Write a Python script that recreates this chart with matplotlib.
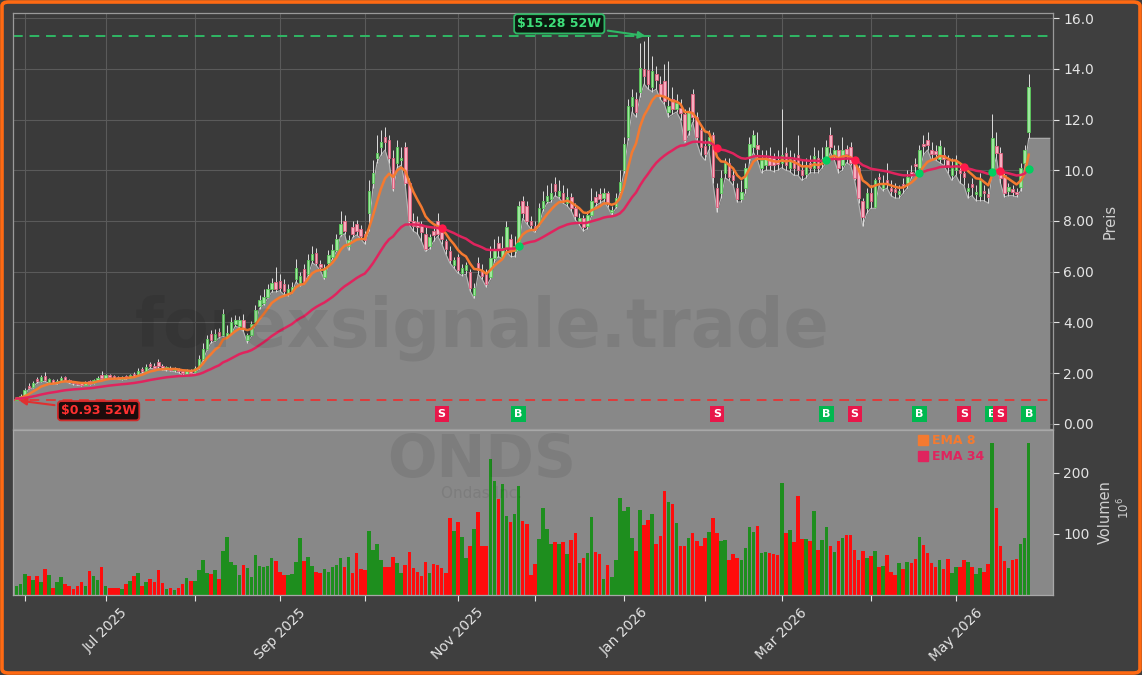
import numpy as np
import pandas as pd
import matplotlib
matplotlib.use("Agg")
import matplotlib.pyplot as plt
from matplotlib.patches import FancyBboxPatch
from matplotlib.lines import Line2D
from matplotlib.ticker import FuncFormatter

# ---------------- data ----------------
ticker = "ONDS"
company = "Ondas Inc."
watermark = "forexsignale.trade"
start_date = "2025-05-29"
end_date = "2026-05-28"
holidays = ["2025-06-19", "2025-07-04", "2025-09-01", "2025-11-27", "2025-12-25",
            "2026-01-01", "2026-01-19", "2026-02-16", "2026-04-03", "2026-05-25"]

opens = [
    0.93, 1.02, 1.15, 1.50, 1.45, 1.78, 1.70, 1.90, 1.66, 1.72,
    1.60, 1.70, 1.84, 1.74, 1.66, 1.62, 1.60, 1.54, 1.68, 1.60,
    1.72, 1.92, 1.82, 1.92, 1.88, 1.84, 1.78, 1.88, 1.82, 1.98,
    1.92, 2.15, 2.10, 2.38, 2.30, 2.45, 2.30, 2.16, 2.22, 2.12,
    2.16, 2.10, 1.98, 2.10, 2.04, 2.22, 2.55, 2.95, 3.55, 3.30,
    3.62, 3.50, 3.45, 3.60, 3.95, 3.85, 4.10, 3.30, 3.50, 4.00,
    4.65, 4.75, 5.00, 5.30, 5.60, 5.65, 5.50, 5.15, 5.25, 5.70,
    5.55, 6.10, 5.90, 6.45, 6.75, 6.30, 5.80, 6.35, 6.60, 6.85,
    7.50, 8.00, 7.00, 7.75, 7.90, 7.70, 7.50, 8.30, 9.50, 10.50,
    10.90, 11.30, 11.20, 10.50, 10.30, 10.40, 10.90, 9.50, 8.00, 7.95,
    7.80, 7.50, 7.00, 7.60, 8.00, 7.55, 7.20, 6.80, 6.25, 6.60,
    5.95, 6.05, 6.00, 5.10, 6.35, 6.05, 5.90, 5.80, 6.55, 7.15,
    6.60, 6.95, 7.30, 6.80, 7.00, 8.80, 8.60, 8.00, 7.80, 7.90,
    8.50, 8.80, 8.85, 9.45, 9.00, 9.10, 8.70, 8.95, 8.50, 7.95,
    8.10, 7.80, 8.25, 8.95, 9.05, 8.90, 9.10, 8.35, 8.60, 9.20,
    10.00, 11.30, 12.55, 12.80, 13.10, 14.00, 13.95, 13.30, 13.80, 13.40,
    13.50, 12.30, 12.80, 12.40, 12.45, 12.20, 11.60, 13.00, 12.10, 11.60,
    10.95, 11.00, 11.40, 9.30, 9.10, 9.90, 10.30, 9.80, 9.30, 8.85,
    9.30, 10.50, 10.90, 11.00, 10.10, 10.20, 10.55, 10.50, 10.40, 10.30,
    10.70, 10.10, 10.45, 10.60, 10.00, 9.85, 10.30, 10.10, 10.50, 10.30,
    10.50, 11.40, 10.60, 10.80, 10.20, 10.85, 10.90, 10.30, 10.10, 8.80,
    8.50, 9.10, 8.55, 9.75, 9.30, 9.60, 9.30, 9.25, 9.05, 9.45,
    9.50, 9.95, 10.25, 10.10, 11.05, 11.20, 10.80, 10.75, 10.45, 10.60,
    10.40, 9.80, 10.00, 10.00, 9.90, 9.20, 9.45, 9.05, 9.00, 9.20,
    9.05, 10.00, 10.95, 10.70, 9.80, 9.20, 9.25, 9.15, 9.35, 10.30,
    11.50]

closes = [
    1.00, 1.12, 1.35, 1.42, 1.62, 1.68, 1.85, 1.72, 1.76, 1.62,
    1.70, 1.82, 1.74, 1.65, 1.60, 1.56, 1.54, 1.62, 1.58, 1.72,
    1.82, 1.80, 1.92, 1.86, 1.82, 1.80, 1.86, 1.80, 1.92, 1.90,
    2.08, 2.08, 2.25, 2.28, 2.22, 2.30, 2.18, 2.24, 2.14, 2.18,
    2.08, 2.00, 2.08, 2.02, 2.20, 2.55, 2.95, 3.35, 3.30, 3.55,
    3.45, 4.35, 3.60, 4.00, 4.10, 4.10, 3.75, 3.50, 3.95, 4.50,
    4.90, 5.00, 5.30, 5.55, 5.30, 5.35, 5.25, 5.30, 5.40, 6.15,
    5.85, 5.60, 6.45, 6.70, 6.35, 6.20, 6.15, 6.65, 6.85, 7.30,
    7.90, 7.60, 7.25, 7.50, 7.60, 7.40, 7.25, 9.20, 9.90, 10.70,
    11.10, 11.10, 10.50, 9.30, 10.90, 10.50, 9.50, 8.00, 7.80, 7.75,
    7.55, 6.90, 7.35, 7.45, 7.50, 7.30, 6.90, 6.45, 6.45, 6.05,
    6.15, 6.25, 5.35, 5.35, 6.05, 5.85, 5.50, 6.55, 6.85, 6.85,
    6.95, 7.75, 6.85, 7.00, 8.60, 8.30, 8.00, 7.85, 7.65, 8.50,
    8.80, 9.00, 9.10, 9.20, 9.20, 8.80, 8.95, 8.50, 8.20, 8.10,
    7.75, 8.25, 8.80, 8.75, 8.85, 9.10, 8.70, 8.45, 8.90, 9.55,
    11.05, 12.55, 12.90, 12.30, 14.05, 13.70, 13.40, 13.90, 13.55, 12.95,
    12.75, 12.55, 12.40, 12.65, 12.25, 11.20, 12.30, 12.10, 11.30, 10.90,
    10.65, 11.30, 9.75, 8.55, 9.70, 10.30, 9.75, 9.60, 8.85, 9.15,
    10.10, 11.05, 11.40, 10.85, 10.40, 10.50, 10.20, 10.20, 10.25, 10.60,
    10.20, 10.50, 10.10, 10.00, 9.80, 10.20, 10.10, 10.55, 10.10, 10.45,
    10.90, 10.90, 10.80, 10.10, 10.80, 10.65, 10.30, 9.70, 8.90, 8.15,
    9.10, 8.80, 9.60, 9.65, 9.50, 9.45, 9.20, 9.15, 9.20, 9.35,
    9.75, 9.85, 10.15, 10.80, 10.95, 11.00, 10.65, 10.65, 10.95, 10.45,
    10.20, 10.10, 10.40, 9.90, 9.75, 9.30, 9.35, 9.15, 9.60, 9.10,
    8.95, 11.26, 10.70, 9.70, 9.10, 9.35, 9.15, 9.05, 10.10, 10.80,
    13.27]

highs = [
    1.05, 1.18, 1.40, 1.60, 1.70, 1.85, 1.92, 2.05, 1.82, 1.78,
    1.76, 1.88, 1.90, 1.78, 1.70, 1.66, 1.64, 1.68, 1.72, 1.78,
    1.88, 2.10, 1.98, 1.96, 1.92, 1.88, 1.90, 1.92, 1.98, 2.05,
    2.20, 2.25, 2.35, 2.45, 2.40, 2.55, 2.35, 2.30, 2.28, 2.24,
    2.22, 2.14, 2.16, 2.15, 2.30, 2.70, 3.20, 3.50, 3.70, 3.75,
    3.80, 4.55, 3.90, 4.20, 4.30, 4.25, 4.35, 3.60, 4.05, 4.70,
    5.10, 5.30, 5.50, 5.75, 6.20, 5.90, 5.70, 5.50, 5.60, 6.50,
    6.00, 6.30, 6.70, 7.00, 6.95, 6.45, 6.30, 6.85, 7.10, 7.50,
    8.40, 8.25, 7.45, 8.00, 8.05, 7.85, 7.60, 9.60, 10.40, 11.40,
    11.60, 11.70, 11.40, 10.80, 11.20, 10.90, 11.10, 9.70, 8.30, 8.20,
    8.00, 7.80, 7.50, 7.80, 8.30, 7.70, 7.30, 7.00, 6.60, 6.70,
    6.30, 6.40, 6.10, 5.55, 6.60, 6.30, 6.10, 7.00, 7.30, 7.40,
    7.40, 8.00, 7.50, 7.40, 8.80, 9.00, 8.80, 8.20, 8.00, 8.70,
    9.20, 9.40, 9.50, 9.75, 9.60, 9.40, 9.30, 9.10, 8.70, 8.30,
    8.25, 8.40, 9.30, 9.20, 9.30, 9.30, 9.20, 8.60, 9.10, 10.00,
    11.30, 12.80, 13.20, 13.10, 15.00, 15.10, 15.28, 14.50, 14.10, 13.70,
    14.20, 14.30, 13.30, 13.00, 12.80, 12.40, 12.50, 13.20, 12.30, 11.80,
    11.20, 11.60, 11.50, 9.50, 10.00, 10.50, 10.50, 10.10, 9.50, 9.60,
    10.30, 11.30, 11.60, 11.50, 10.80, 10.80, 10.90, 10.70, 10.80, 12.40,
    10.90, 10.80, 10.70, 11.40, 10.40, 10.50, 10.60, 10.90, 10.80, 10.90,
    11.20, 11.70, 11.00, 11.00, 11.30, 11.00, 11.10, 10.50, 10.20, 8.90,
    9.30, 9.40, 9.70, 9.90, 9.80, 10.30, 9.60, 9.50, 9.40, 9.70,
    10.00, 10.20, 10.50, 11.00, 11.40, 11.50, 11.10, 11.00, 11.20, 10.90,
    10.60, 10.50, 10.60, 10.30, 10.20, 9.50, 9.70, 9.40, 9.90, 9.40,
    9.30, 12.20, 11.50, 10.90, 9.90, 9.50, 9.40, 9.30, 10.30, 11.00,
    13.80]

lows = [
    0.93, 1.00, 1.12, 1.38, 1.42, 1.62, 1.66, 1.68, 1.60, 1.58,
    1.56, 1.66, 1.70, 1.60, 1.55, 1.52, 1.50, 1.52, 1.54, 1.58,
    1.68, 1.76, 1.78, 1.82, 1.78, 1.76, 1.74, 1.76, 1.80, 1.86,
    1.90, 2.02, 2.06, 2.20, 2.16, 2.22, 2.12, 2.10, 2.08, 2.06,
    2.02, 1.92, 1.95, 1.98, 2.00, 2.18, 2.50, 2.90, 3.20, 3.25,
    3.40, 3.45, 3.40, 3.55, 3.85, 3.80, 3.65, 3.20, 3.45, 3.95,
    4.55, 4.70, 4.95, 5.20, 5.20, 5.25, 5.10, 5.05, 5.15, 5.60,
    5.45, 5.50, 5.85, 6.35, 6.25, 6.05, 5.70, 6.25, 6.50, 6.80,
    7.40, 7.50, 6.85, 7.35, 7.45, 7.30, 7.10, 7.60, 9.30, 10.30,
    10.60, 10.80, 10.30, 9.20, 10.10, 10.20, 9.40, 7.85, 7.60, 7.50,
    7.20, 6.80, 6.90, 7.20, 7.40, 7.10, 6.70, 6.35, 6.15, 5.95,
    5.85, 5.90, 5.25, 4.95, 5.90, 5.70, 5.40, 5.70, 6.40, 6.60,
    6.50, 6.80, 6.60, 6.60, 6.95, 8.10, 7.90, 7.70, 7.55, 7.80,
    8.40, 8.70, 8.75, 9.00, 8.90, 8.70, 8.60, 8.40, 8.05, 7.85,
    7.60, 7.70, 8.20, 8.60, 8.70, 8.80, 8.55, 8.25, 8.50, 9.10,
    9.90, 11.20, 12.30, 12.10, 12.90, 13.40, 13.20, 13.10, 13.20, 12.80,
    12.60, 12.10, 12.20, 12.30, 12.00, 11.10, 11.40, 11.90, 11.10, 10.60,
    10.40, 10.80, 9.50, 8.35, 8.90, 9.70, 9.60, 9.40, 8.75, 8.75,
    9.10, 10.30, 10.70, 10.40, 9.90, 10.00, 10.00, 9.95, 10.00, 10.10,
    10.00, 9.95, 9.80, 9.80, 9.60, 9.70, 9.90, 9.90, 9.90, 10.10,
    10.30, 10.70, 10.40, 9.90, 10.00, 10.30, 10.20, 9.60, 8.70, 7.80,
    8.30, 8.50, 8.50, 9.40, 9.20, 9.30, 9.00, 8.90, 8.90, 9.10,
    9.30, 9.70, 9.90, 9.90, 10.60, 10.80, 10.40, 10.40, 10.30, 10.20,
    9.90, 9.60, 9.80, 9.50, 9.40, 8.90, 9.00, 8.80, 8.80, 8.80,
    8.70, 9.90, 10.50, 9.50, 8.95, 9.00, 9.00, 8.95, 9.20, 10.10,
    11.26]

volumes_m = [
    14, 18, 35, 31, 25, 31, 22, 43, 33, 11,
    21, 29, 18, 14, 10, 15, 21, 15, 39, 31,
    25, 46, 15, 11, 11, 11, 10, 18, 23, 31,
    36, 15, 21, 26, 21, 41, 20, 10, 11, 8,
    11, 18, 28, 23, 23, 41, 57, 36, 34, 41,
    26, 72, 95, 54, 49, 33, 49, 44, 29, 66,
    48, 46, 48, 61, 56, 38, 33, 33, 34, 54,
    93, 56, 62, 48, 38, 36, 43, 38, 46, 49,
    61, 46, 62, 36, 69, 43, 41, 105, 74, 84,
    57, 46, 46, 62, 52, 36, 49, 70, 44, 38,
    31, 54, 36, 51, 49, 44, 36, 126, 105, 120,
    95, 61, 80, 108, 136, 80, 80, 223, 187, 157,
    182, 130, 120, 133, 179, 121, 116, 33, 51, 92,
    143, 108, 84, 87, 84, 87, 67, 90, 101, 52,
    61, 68, 128, 70, 67, 26, 49, 30, 57, 159,
    138, 144, 93, 72, 139, 115, 123, 133, 84, 97,
    170, 152, 149, 118, 80, 80, 93, 102, 89, 80,
    93, 103, 126, 102, 89, 90, 57, 67, 61, 57,
    77, 111, 103, 113, 69, 70, 69, 67, 66, 184,
    102, 107, 87, 162, 92, 92, 89, 138, 74, 90,
    111, 80, 70, 89, 93, 98, 98, 74, 57, 72,
    61, 64, 72, 46, 48, 66, 38, 33, 52, 43,
    54, 52, 59, 95, 82, 69, 52, 46, 57, 43,
    59, 36, 46, 46, 57, 54, 46, 34, 44, 38,
    51, 248, 143, 80, 56, 44, 57, 59, 84, 93,
    248]

signal_idx = [105, 124, 173, 200, 207, 223, 234, 241, 243, 250]
signal_type = ["S", "B", "S", "B", "S", "B", "S", "B", "S", "B"]
ema_spans = [8, 34]
ema_labels = ["EMA 8", "EMA 34"]

# ---------------- styling ----------------
BG = "#3f3f3f"
AX_BG = "#3a3a3a"
FILL = "#888888"
GRID = "#5a5a5a"
TXT = "#e4e4e4"
ORANGE = "#f47a30"
CRIMSON = "#e0245e"
UP_FACE, UP_EDGE = "#9ee89e", "#58c858"
DN_FACE, DN_EDGE = "#f7aec0", "#e0607e"
VOL_UP, VOL_DN = "#1e8e1e", "#ff0c0c"
GREEN_SIG, RED_SIG = "#00b84f", "#e8174a"

W, H = 1142, 675
o = np.array(opens); c = np.array(closes); h = np.array(highs); l = np.array(lows)
v = np.array(volumes_m, dtype=float)
n = len(c)
x = np.arange(n)

dates = pd.bdate_range(start_date, end_date)
dates = dates[~dates.isin(pd.to_datetime(holidays))][:n]

fig = plt.figure(figsize=(W / 100, H / 100), dpi=100)
fig.patch.set_facecolor(BG)

ax = fig.add_axes([13 / W, 1 - 429 / H, 1040 / W, 416 / H])
axv = fig.add_axes([13 / W, 1 - 595 / H, 1040 / W, 165 / H], sharex=ax)

xmin, xmax = -0.9, 256.0
ax.set_xlim(xmin, xmax)
ax.set_ylim(-0.2, 16.2)
ax.set_facecolor(AX_BG)
ax.set_axisbelow(True)
ax.grid(True, color=GRID, lw=0.8)

# area of lows
xf = np.r_[xmin, x, xmax - 0.8]
yf = np.r_[l[0], l, l[-1]]
ax.fill_between(xf, yf, -1, color=FILL, lw=0, zorder=1)
ax.plot(xf, yf, color="#b8b8b8", lw=0.8, zorder=1.2)

# candles
up = c >= o
ax.vlines(x, l, h, color="#dedede", lw=0.7, zorder=2)
body = np.maximum(np.abs(c - o), 0.03)
ax.bar(x, body, bottom=np.minimum(o, c), width=0.62,
       color=np.where(up, UP_FACE, DN_FACE),
       edgecolor=np.where(up, UP_EDGE, DN_EDGE), lw=0.6, zorder=3)

# EMAs
s = pd.Series(c)
ema_fast = s.ewm(span=ema_spans[0], adjust=False).mean().values
ema_slow = s.ewm(span=ema_spans[1], adjust=False).mean().values
ax.plot(x, ema_fast, color=ORANGE, lw=1.8, zorder=4)
ax.plot(x, ema_slow, color=CRIMSON, lw=1.8, zorder=4)

# 52W high/low lines
hi_i = int(np.argmax(h)); hi_v = h[hi_i]
lo_i = int(np.argmin(l)); lo_v = l[lo_i]
ax.axhline(hi_v, color="#2fb865", ls=(0, (5, 3.5)), lw=1.4, zorder=2.5)
ax.axhline(lo_v, color="#e03a3a", ls=(0, (5, 3.5)), lw=1.4, zorder=2.5)

ax.annotate(f"${hi_v:.2f} 52W", xy=(hi_i, hi_v), xytext=(-64, 9), textcoords="offset points",
            ha="center", va="center", fontsize=9, fontweight="bold", color="#3ee07a",
            bbox=dict(boxstyle="round,pad=0.25", fc="#0c1a10", ec="#2fb865", lw=1.3),
            arrowprops=dict(arrowstyle="-|>", color="#2fb865", lw=1.5, mutation_scale=10),
            zorder=8)
ax.annotate(f"${lo_v:.2f} 52W", xy=(lo_i, lo_v), xytext=(59, -7.5), textcoords="offset points",
            ha="center", va="center", fontsize=9, fontweight="bold", color="#ff3030",
            bbox=dict(boxstyle="round,pad=0.25", fc="#1c0c0c", ec="#d02a2a", lw=1.3),
            arrowprops=dict(arrowstyle="-|>", color="#e03030", lw=1.5, mutation_scale=10),
            zorder=8)

# signals
for si, st in zip(signal_idx, signal_type):
    col = GREEN_SIG if st == "B" else RED_SIG
    ax.plot(si, ema_slow[si], "o", color=("#00d060" if st == "B" else "#ff1a4a"),
            ms=6, mec="none", zorder=6)
    ax.text(si, 0.38, st, ha="center", va="center", fontsize=8, fontweight="bold",
            color="white", zorder=7,
            bbox=dict(boxstyle="square,pad=0.28", fc=col, ec="none"))

# y axis price
ax.yaxis.tick_right()
ax.yaxis.set_label_position("right")
ax.set_yticks(np.arange(0, 17, 2))
ax.yaxis.set_major_formatter(FuncFormatter(lambda val, pos: f"{val:.2f}"[:4]))
ax.tick_params(axis="y", colors=TXT, labelsize=10, length=4, width=0.8)
ax.tick_params(axis="x", length=0, labelbottom=False)
ax.set_ylabel("Preis", color="#d0d0d0", fontsize=10.5, labelpad=6)
for sp in ax.spines.values():
    sp.set_color("#9a9a9a"); sp.set_linewidth(0.9)

# volume
axv.set_facecolor(FILL)
axv.bar(x, v, width=0.88, color=np.where(up, VOL_UP, VOL_DN), lw=0, zorder=2)
axv.set_ylim(0, 270)
axv.yaxis.tick_right()
axv.yaxis.set_label_position("right")
axv.set_yticks([100, 200])
axv.tick_params(axis="y", colors=TXT, labelsize=10, length=4, width=0.8)
axv.set_ylabel("Volumen", color="#d0d0d0", fontsize=10.5, labelpad=6)
for sp in axv.spines.values():
    sp.set_color("#a8a8a8"); sp.set_linewidth(0.9)
fig.text(1124 / W, 1 - 508 / H, r"$10^{6}$", rotation=90, color="#d0d0d0",
         fontsize=8.5, ha="center", va="center")

# month ticks
months = dates.to_period("M")
tick_pos = [i for i in range(1, len(dates)) if months[i] != months[i - 1]]
tick_lab = [dates[i].strftime("%b %Y") if dates[i].month % 2 == 1 else "" for i in tick_pos]
axv.set_xticks(tick_pos)
axv.set_xticklabels(tick_lab, rotation=45, ha="center")
axv.tick_params(axis="x", colors=TXT, labelsize=10, length=4, width=0.8)
ax.set_xticks(tick_pos)
ax.set_xlim(xmin, xmax)

# legend
handles = [Line2D([], [], marker="s", ls="", color=ORANGE, ms=6.5),
           Line2D([], [], marker="s", ls="", color=CRIMSON, ms=6.5)]
leg = axv.legend(handles, ema_labels, loc="upper left",
                 bbox_to_anchor=((908 - 13) / 1040, 1.02), frameon=False,
                 prop={"size": 9, "weight": "bold"}, handletextpad=0.1,
                 labelspacing=0.25, handlelength=1.2, borderaxespad=0.2)
for t, col in zip(leg.get_texts(), [ORANGE, CRIMSON]):
    t.set_color(col)

# watermarks
fig.text(482 / W, 1 - 328 / H, watermark, fontsize=48, fontweight="bold", color="black",
         alpha=0.08, ha="center", va="center", zorder=5)
fig.text(482 / W, 1 - 460 / H, ticker, fontsize=42, fontweight="bold", color="black",
         alpha=0.08, ha="center", va="center", zorder=5)
fig.text(482 / W, 1 - 494 / H, company, fontsize=11, color="black",
         alpha=0.08, ha="center", va="center", zorder=5)

# orange frame
frame = FancyBboxPatch((2 / W, 2 / H), 1 - 4 / W, 1 - 4 / H,
                       boxstyle="round,pad=0,rounding_size=0.006",
                       transform=fig.transFigure, fc="none", ec="#ff6a13", lw=2.6, zorder=20)
fig.patches.append(frame)

fig.savefig("out.png", dpi=100, facecolor=fig.get_facecolor())
